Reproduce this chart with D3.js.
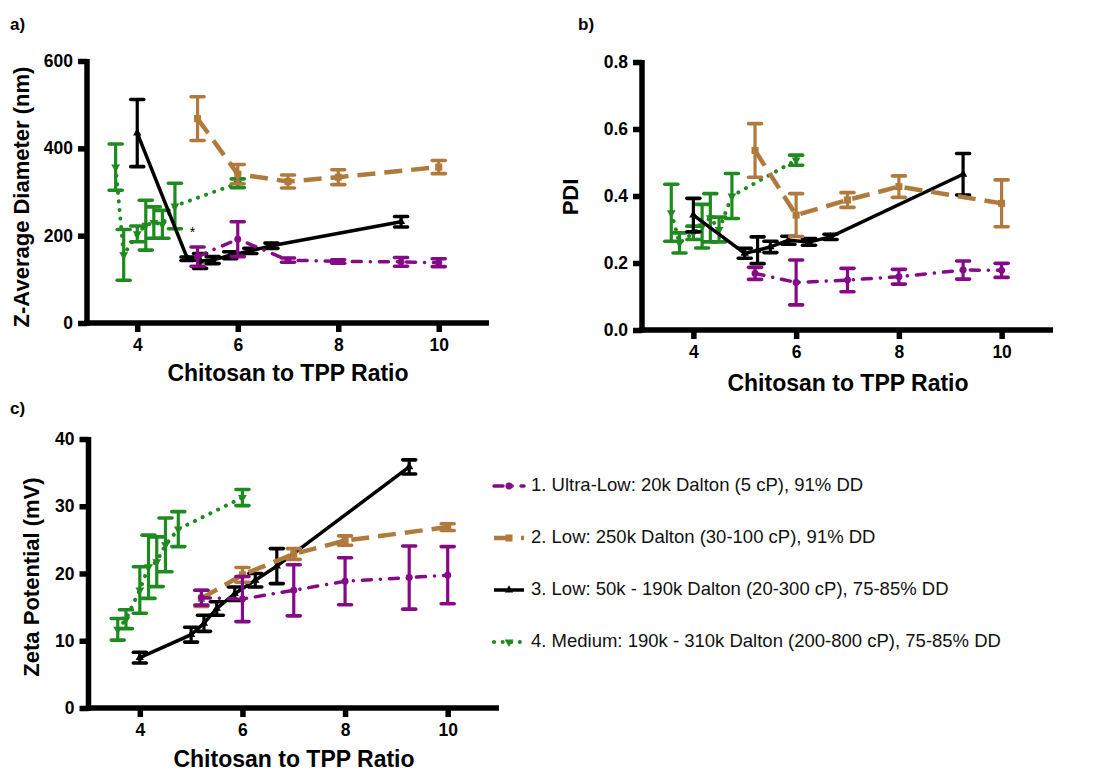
<!DOCTYPE html>
<html>
<head>
<meta charset="utf-8">
<script src="https://cdn.jsdelivr.net/npm/d3@7"></script>
<style>
  body { margin: 0; background: #fff; }
  text { font-family: "Liberation Sans", Arial, Helvetica, sans-serif; }
</style>
</head>
<body>
<svg id="chart" width="1101" height="772"></svg>
<script>
// ---- Data -------------------------------------------------------------
// Chitosan to TPP ratios measured for each chitosan grade
const ultraLowX = [5.2, 6, 7, 8, 9.25, 10];
const lowX      = [5.2, 6, 7, 8, 10];
const lowMixX   = [4, 5, 5.25, 5.5, 5.85, 6.25, 6.67, 9.25];
const mediumX   = [3.57, 3.73, 4.0, 4.17, 4.33, 4.5, 4.75, 6];

// a) Z-average diameter (nm): mean and SD
const sizeUltraLow    = [152, 192, 144, 141, 140, 138];
const sizeUltraLowSD  = [22, 40, 5, 4, 10, 9];
const sizeLow         = [468, 341, 324, 334, 357];
const sizeLowSD       = [50, 22, 15, 17, 15];
const sizeLowMix      = [435, 147, 142, 144, 155, 165, 177, 232];
const sizeLowMixSD    = [77, 4, 17, 8, 8, 6, 6, 12];
const sizeMedium      = [357, 156, 204, 224, 230, 226, 268, 320];
const sizeMediumSD    = [53, 58, 18, 57, 36, 32, 52, 10];

// b) Polydispersity index: mean and SD
const pdiUltraLow     = [0.169, 0.142, 0.149, 0.159, 0.179, 0.178];
const pdiUltraLowSD   = [0.018, 0.067, 0.035, 0.022, 0.027, 0.021];
const pdiLow          = [0.536, 0.343, 0.388, 0.428, 0.378];
const pdiLowSD        = [0.08, 0.064, 0.022, 0.032, 0.07];
const pdiLowMix       = [0.343, 0.229, 0.238, 0.248, 0.268, 0.263, 0.278, 0.465];
const pdiLowMixSD     = [0.05, 0.015, 0.04, 0.017, 0.012, 0.01, 0.008, 0.062];
const pdiMedium       = [0.35, 0.26, 0.29, 0.31, 0.335, 0.30, 0.40, 0.507];
const pdiMediumSD     = [0.085, 0.03, 0.02, 0.065, 0.072, 0.037, 0.067, 0.015];

// c) Zeta potential (mV): mean and SD
const zetaUltraLow    = [16.4, 16.2, 17.5, 18.85, 19.4, 19.75];
const zetaUltraLowSD  = [1.1, 3.35, 3.8, 3.5, 4.7, 4.25];
const zetaLow         = [16.3, 19.8, 22.9, 24.9, 26.9];
const zetaLowSD       = [1.2, 1.1, 0.8, 0.7, 0.5];
const zetaLowMix      = [7.5, 10.9, 12.6, 14.8, 17, 19.0, 21.1, 35.85];
const zetaLowMixSD    = [0.8, 1.1, 1.2, 1.0, 1.0, 1.0, 2.6, 1.05];
const zetaMedium      = [11.7, 13.2, 17.55, 21.0, 21.75, 24.25, 26.6, 31.3];
const zetaMediumSD    = [1.6, 1.4, 3.45, 4.7, 3.7, 4.0, 2.6, 1.2];

// Legend entries
const legendLabels = [
  "1. Ultra-Low: 20k Dalton (5 cP), 91% DD",
  "2. Low: 250k Dalton (30-100 cP), 91% DD",
  "3. Low: 50k - 190k Dalton (20-300 cP), 75-85% DD",
  "4. Medium: 190k - 310k Dalton (200-800 cP), 75-85% DD"
];

// Axis ticks
const sizeTicks = [0, 200, 400, 600];
const pdiTicks  = [0, 0.2, 0.4, 0.6, 0.8];
const zetaTicks = [0, 10, 20, 30, 40];
const ratioTicks = [4, 6, 8, 10];

// ---- Series styles (index matches legend order) ----------------------
const styles = [
  { color: "#850a85", width: 3.5, dash: "9,9,0.1,9", cap: "round", symbol: d3.symbolCircle,   size: 38 },
  { color: "#b07a3c", width: 4.5, dash: "18,9",      cap: "butt",  symbol: d3.symbolSquare,   size: 50 },
  { color: "#000000", width: 3.5, dash: null,        cap: "butt",  symbol: d3.symbolTriangle, size: 30 },
  { color: "#1f8a1f", width: 4,   dash: "0.1,8.5",   cap: "round", symbol: d3.symbolTriangle, size: 34, rotate: 180 }
];

const svg = d3.select("#chart");
const AXIS_W = 5.5;

function zip(xs, ys, sds) {
  return xs.map((x, i) => ({ x: x, y: ys[i], sd: sds[i] }));
}

function drawPanel(p) {
  const x = d3.scaleLinear().domain([3, 11]).range([p.left, p.right]);
  const y = d3.scaleLinear().domain(p.yDomain).range([p.bottom, p.top]);
  const g = svg.append("g");

  // axes
  const xAxis = d3.axisBottom(x).tickValues(ratioTicks).tickSize(9).tickPadding(6)
    .tickFormat(d3.format("d"));
  const yAxis = d3.axisLeft(y).tickValues(p.ticks).tickSize(9).tickPadding(5)
    .tickFormat(p.fmt);

  const gx = g.append("g").attr("transform", `translate(0,${p.bottom})`).call(xAxis);
  const gy = g.append("g").attr("transform", `translate(${p.left},0)`).call(yAxis);
  [gx, gy].forEach(a => {
    a.select(".domain").remove();
    a.selectAll(".tick line").attr("stroke", "#000").attr("stroke-width", AXIS_W);
    a.selectAll(".tick text").attr("fill", "#000")
      .style("font-size", "17.5px").style("font-weight", "bold");
  });
  gx.selectAll(".tick text").attr("dy", "0.75em");
  g.append("line").attr("x1", p.left - AXIS_W / 2).attr("x2", p.right)
    .attr("y1", p.bottom).attr("y2", p.bottom)
    .attr("stroke", "#000").attr("stroke-width", AXIS_W);
  g.append("line").attr("x1", p.left).attr("x2", p.left)
    .attr("y1", p.bottom + AXIS_W / 2).attr("y2", p.top - 2)
    .attr("stroke", "#000").attr("stroke-width", AXIS_W);

  // axis titles
  g.append("text").attr("x", p.xTitleX).attr("y", p.xTitleY)
    .attr("text-anchor", "middle").attr("dominant-baseline", "middle")
    .style("font-size", "23px").style("font-weight", "bold")
    .text("Chitosan to TPP Ratio");
  g.append("text")
    .attr("transform", `translate(${p.yTitleX},${p.yTitleY}) rotate(-90)`)
    .attr("text-anchor", "middle").attr("dominant-baseline", "middle")
    .style("font-size", "22px").style("font-weight", "bold")
    .text(p.yTitle);

  // panel letter
  svg.append("text").attr("x", p.letterX).attr("y", p.letterY)
    .style("font-size", "17px").style("font-weight", "bold").text(p.letter);

  // series, drawn back to front: 4, 3, 2, 1
  const line = d3.line().x(d => x(d.x)).y(d => y(d.y));
  [3, 2, 1, 0].forEach(si => {
    const s = styles[si];
    const data = p.series[si];
    const sg = g.append("g");
    sg.append("path").datum(data).attr("d", line)
      .attr("fill", "none").attr("stroke", s.color).attr("stroke-width", s.width)
      .attr("stroke-dasharray", s.dash).attr("stroke-linecap", s.cap);
    // error bars
    const eb = sg.selectAll(".eb").data(data).enter().append("g");
    const capW = 6.5;
    eb.append("line").attr("x1", d => x(d.x)).attr("x2", d => x(d.x))
      .attr("y1", d => y(d.y - d.sd)).attr("y2", d => y(d.y + d.sd))
      .attr("stroke", s.color).attr("stroke-width", 3.2);
    [-1, 1].forEach(sign => {
      eb.append("line")
        .attr("x1", d => x(d.x) - capW).attr("x2", d => x(d.x) + capW)
        .attr("y1", d => y(d.y + sign * d.sd)).attr("y2", d => y(d.y + sign * d.sd))
        .attr("stroke", s.color).attr("stroke-width", 3.6).attr("stroke-linecap", "round");
    });
    // markers
    sg.selectAll(".mk").data(data).enter().append("path")
      .attr("d", d3.symbol().type(s.symbol).size(s.size))
      .attr("transform", d => `translate(${x(d.x)},${y(d.y)}) rotate(${s.rotate || 0})`)
      .attr("fill", s.color);
  });

  if (p.note) {
    g.append("text").attr("x", x(p.note.x)).attr("y", y(p.note.y))
      .attr("text-anchor", "middle").style("font-size", "14px").text(p.note.text);
  }
}

// a) size
drawPanel({
  letter: "a)", letterX: 10, letterY: 30,
  left: 87, right: 489, top: 61, bottom: 323,
  yDomain: [0, 600], ticks: sizeTicks, fmt: d3.format("d"),
  yTitle: "Z-Average Diameter (nm)", yTitleX: 23, yTitleY: 197,
  xTitleX: 288, xTitleY: 375,
  note: { x: 5.1, y: 196, text: "*" },
  series: [
    zip(ultraLowX, sizeUltraLow, sizeUltraLowSD),
    zip(lowX, sizeLow, sizeLowSD),
    zip(lowMixX, sizeLowMix, sizeLowMixSD),
    zip(mediumX, sizeMedium, sizeMediumSD)
  ]
});

// b) PDI
drawPanel({
  letter: "b)", letterX: 578, letterY: 30,
  left: 642, right: 1053, top: 62, bottom: 330,
  yDomain: [0, 0.8], ticks: pdiTicks, fmt: d3.format(".1f"),
  yTitle: "PDI", yTitleX: 572, yTitleY: 197,
  xTitleX: 848, xTitleY: 385,
  series: [
    zip(ultraLowX, pdiUltraLow, pdiUltraLowSD),
    zip(lowX, pdiLow, pdiLowSD),
    zip(lowMixX, pdiLowMix, pdiLowMixSD),
    zip(mediumX, pdiMedium, pdiMediumSD)
  ]
});

// c) zeta potential
drawPanel({
  letter: "c)", letterX: 10, letterY: 414,
  left: 88.5, right: 499, top: 439, bottom: 708,
  yDomain: [0, 40], ticks: zetaTicks, fmt: d3.format("d"),
  yTitle: "Zeta Potential (mV)", yTitleX: 33, yTitleY: 577,
  xTitleX: 294, xTitleY: 761,
  series: [
    zip(ultraLowX, zetaUltraLow, zetaUltraLowSD),
    zip(lowX, zetaLow, zetaLowSD),
    zip(lowMixX, zetaLowMix, zetaLowMixSD),
    zip(mediumX, zetaMedium, zetaMediumSD)
  ]
});

// ---- Legend -----------------------------------------------------------
const legendY = d3.scalePoint().domain(d3.range(legendLabels.length)).range([486, 642]);
const lg = svg.append("g");
legendLabels.forEach((label, i) => {
  const s = styles[i];
  const cy = legendY(i);
  lg.append("line").attr("x1", 494).attr("x2", 524).attr("y1", cy).attr("y2", cy)
    .attr("stroke", s.color).attr("stroke-width", s.width)
    .attr("stroke-dasharray", s.dash).attr("stroke-linecap", s.cap);
  lg.append("path").attr("d", d3.symbol().type(s.symbol).size(s.size))
    .attr("transform", `translate(509,${cy}) rotate(${s.rotate || 0})`)
    .attr("fill", s.color);
  lg.append("text").attr("x", 531).attr("y", cy).attr("dominant-baseline", "middle")
    .style("font-size", "18.5px").attr("fill", "#111").text(label);
});
</script>
</body>
</html>
